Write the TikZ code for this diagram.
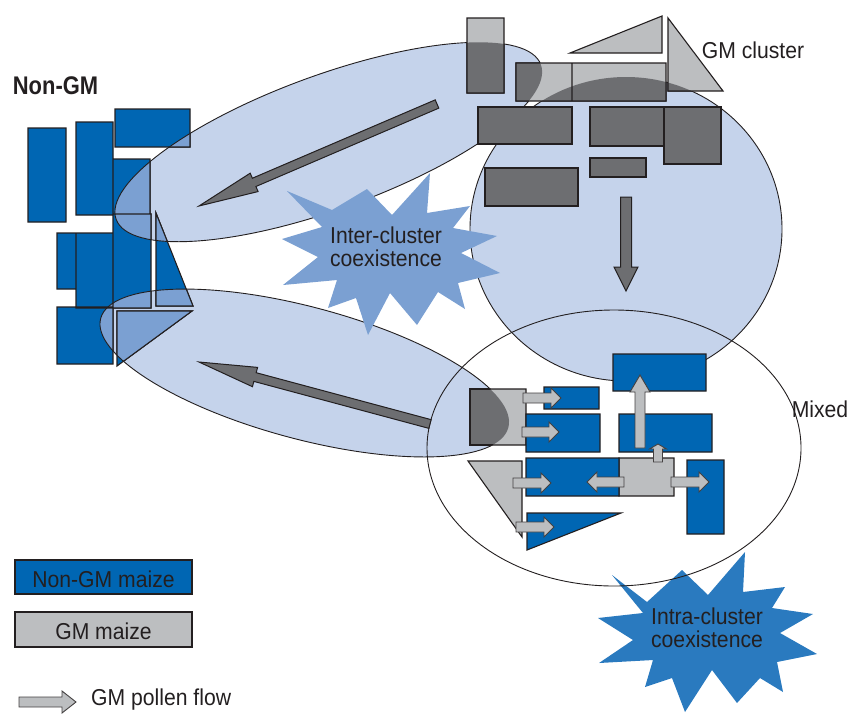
\documentclass[tikz,border=0pt]{standalone}
\usepackage{fontspec}
\newfontfamily\lbl{Liberation Sans}[FakeStretch=0.92]
\newfontfamily\lblbold{Liberation Sans Bold}[FakeStretch=0.86]
\usetikzlibrary{calc}
\definecolor{ngblue}{HTML}{0066B3}
\definecolor{ngblueL}{HTML}{7BA0D2}
\definecolor{gmgrey}{HTML}{BCBEC0}
\definecolor{gmdark}{HTML}{6D6E71}
\definecolor{ellfill}{HTML}{C5D3EB}
\definecolor{starA}{HTML}{7BA0D2}
\definecolor{starB}{HTML}{2A7ABF}
\definecolor{ink}{HTML}{231F20}
\tikzset{
 shapeline/.style={draw=ink, line width=1.1pt, line join=miter},
 ngshape/.style={shapeline, fill=ngblue},
 ngshapeL/.style={shapeline, fill=ngblueL},
 gmshape/.style={shapeline, fill=gmgrey},
 gmshapeD/.style={shapeline, fill=gmdark},
 ellline/.style={draw=ink, line width=0.9pt},
 rotA/.style={rotate around={20:(328.5,142)}},
 rotB/.style={rotate around={-15:(304.5,373)}},
 bigarrow/.style={fill=gmdark, draw=ink, line width=1pt, line join=miter},
 pollen/.style={fill=gmgrey, draw=ink!85, line width=0.9pt, line join=miter},
 lab/.style={font=\lbl\fontsize{23}{23.5}\selectfont, text=ink, inner sep=0pt, align=center},
}
\newcommand\EllA{(328.5,142) ellipse [x radius=226, y radius=67]}
\newcommand\EllB{(304.5,373) ellipse [x radius=211, y radius=66]}
\newcommand\EllC{(626,229) ellipse [x radius=156, y radius=152]}
\newcommand\EllD{(614,448) ellipse [x radius=187, y radius=138]}
\newcommand\NGshapes{(28,128) rectangle (66,222) (76,122) rectangle (113,215) (115,109) rectangle (190,147) (113,159) rectangle (150,214) (113,214) rectangle (151,308) (156,213) -- (156,306) -- (193,306) -- cycle (57,233) rectangle (76,289) (76,233) rectangle (113,308) (57,307) rectangle (113,364) (117,311) -- (192,311) -- (117,366) -- cycle}
\newcommand\GMshapes{(467,18) rectangle (504,93) (570,53) -- (662,16) -- (662,53) -- cycle (668,18) -- (668,91) -- (723,91) -- cycle (516,63) rectangle (572,101) (572,63) rectangle (666,101)}
\newcommand\GMdark{(478,107) rectangle (572,144) (590,107) rectangle (664,146) (664,107) rectangle (721,164) (590,158) rectangle (646,177) (485,168) rectangle (578,206)}
\newcommand\gmarrow[6]{%
 \coordinate (ah) at ($(#2)!#5!(#1)$);
 \filldraw[#6] ($(#1)!#3!90:(#2)$) -- ($(ah)!#3!90:(#2)$) -- ($(ah)!#4!90:(#2)$) -- (#2) -- ($(ah)!#4!-90:(#2)$) -- ($(ah)!#3!-90:(#2)$) -- ($(#1)!#3!-90:(#2)$) -- cycle;}
\begin{document}
\begin{tikzpicture}[x=1pt,y=-1pt]
\useasboundingbox (0,0) rectangle (850,713);
% ellipse fills
\fill[ellfill, rotA] \EllA;
\fill[ellfill, rotB] \EllB;
\fill[ellfill] \EllC;
% intra-cluster starburst
\fill[starB] (612,575) -- (647,602) -- (682,570) -- (708,595) -- (745,552) -- (743,592) -- (785,587) -- (772,608) -- (813,614) -- (780,633) -- (817,654) -- (777,662) -- (783,692) -- (760,678) -- (737,703) -- (712,670) -- (685,712) -- (672,678) -- (645,687) -- (653,660) -- (599,663) -- (633,640) -- (598,618) -- (643,613) -- cycle;
% non-GM cluster
\path[ngshape] \NGshapes;
\begin{scope}\clip[rotA] \EllA; \path[ngshapeL] \NGshapes; \end{scope}
\begin{scope}\clip[rotB] \EllB; \path[ngshapeL] \NGshapes; \end{scope}
% ellipse outlines
\draw[ellline, rotA] \EllA;
\draw[ellline, rotB] \EllB;
\draw[ellline] \EllC;
\draw[ellline] \EllD;
% GM cluster
\path[gmshape] \GMshapes;
\begin{scope}\clip[rotA] \EllA; \path[gmshapeD] \GMshapes; \end{scope}
\begin{scope}\clip \EllC; \path[gmshapeD] \GMshapes; \end{scope}
\path[gmshapeD] \GMdark;
% mixed cluster
\path[gmshape] (470,389) rectangle (526,445) (619,458) rectangle (674,496) (468,461) -- (522,461) -- (522,537) -- cycle;
\begin{scope}\clip[rotB] \EllB; \path[gmshapeD] (470,389) rectangle (526,445); \end{scope}
\path[ngshape] (544,387) rectangle (599,409) (526,414) rectangle (600,452) (613,354) rectangle (706,391) (619,414) rectangle (712,452) (526,458) rectangle (619,496) (687,460) rectangle (724,534) (527,513) -- (621,513) -- (527,550) -- cycle;
% dark flow arrows
\coordinate (d1t) at (437,104); \coordinate (d1h) at (199,206);
\coordinate (d2t) at (626,197); \coordinate (d2h) at (626,291);
\coordinate (d3t) at (430,424); \coordinate (d3h) at (199,362);
\gmarrow{d1t}{d1h}{4.5pt}{10pt}{60pt}{bigarrow}
\gmarrow{d2t}{d2h}{5.5pt}{12pt}{24pt}{bigarrow}
\gmarrow{d3t}{d3h}{4.5pt}{10pt}{58pt}{bigarrow}
% pollen arrows
\coordinate (p1t) at (523,398); \coordinate (p1h) at (561,398);
\coordinate (p2t) at (522,432); \coordinate (p2h) at (559,432);
\coordinate (p3t) at (513,483); \coordinate (p3h) at (551,483);
\coordinate (p4t) at (516,527); \coordinate (p4h) at (554,527);
\coordinate (p5t) at (624,482); \coordinate (p5h) at (587,482);
\coordinate (p6t) at (671,482); \coordinate (p6h) at (709,482);
\coordinate (p7t) at (640,448); \coordinate (p7h) at (640,375);
\coordinate (p8t) at (658,462); \coordinate (p8h) at (658,444);
\gmarrow{p1t}{p1h}{5pt}{10pt}{10pt}{pollen}
\gmarrow{p2t}{p2h}{5pt}{10pt}{10pt}{pollen}
\gmarrow{p3t}{p3h}{5pt}{10pt}{10pt}{pollen}
\gmarrow{p4t}{p4h}{5pt}{10pt}{10pt}{pollen}
\gmarrow{p5t}{p5h}{5pt}{10pt}{10pt}{pollen}
\gmarrow{p6t}{p6h}{5pt}{10pt}{10pt}{pollen}
\gmarrow{p7t}{p7h}{5pt}{10pt}{17pt}{pollen}
\gmarrow{p8t}{p8h}{4.5pt}{8.5pt}{5pt}{pollen}
% inter-cluster starburst
\fill[starA] (287,191) -- (332,210) -- (367,189) -- (392,215) -- (430,173) -- (427,213) -- (470,206) -- (453,228) -- (497,236) -- (461,253) -- (500,273) -- (458,283) -- (465,309) -- (438,292) -- (417,325) -- (390,293) -- (368,335) -- (356,298) -- (328,308) -- (337,280) -- (283,285) -- (318,257) -- (282,239) -- (322,227) -- cycle;
% labels
\node[font=\lblbold\fontsize{25.5}{25.5}\selectfont, text=ink, inner sep=0pt, anchor=base] (ngl) at (55.5,94.3) {Non-GM};
\node[lab, anchor=base] (gmcl) at (753,58) {GM cluster};
\node[lab, anchor=base] (mixed) at (820,417) {Mixed};
\node[lab] (inter) at (386,247) {Inter-cluster\\coexistence};
\node[lab] (intra) at (707,628) {Intra-cluster\\coexistence};
% legend
\path[draw=ink, line width=1.1pt, fill=ngblue] (15,560) rectangle (192,594);
\path[draw=ink, line width=1.1pt, fill=gmgrey] (15,612) rectangle (192,647);
\node[lab, anchor=base] (lg1) at (103.5,587) {Non-GM maize};
\node[lab, anchor=base] (lg2) at (103.5,639) {GM maize};
\coordinate (lat) at (19,702); \coordinate (lah) at (76,702);
\gmarrow{lat}{lah}{5pt}{11pt}{14pt}{pollen}
\node[lab, anchor=base west] (lg3) at (91,705) {GM pollen flow};
\end{tikzpicture}
\end{document}
